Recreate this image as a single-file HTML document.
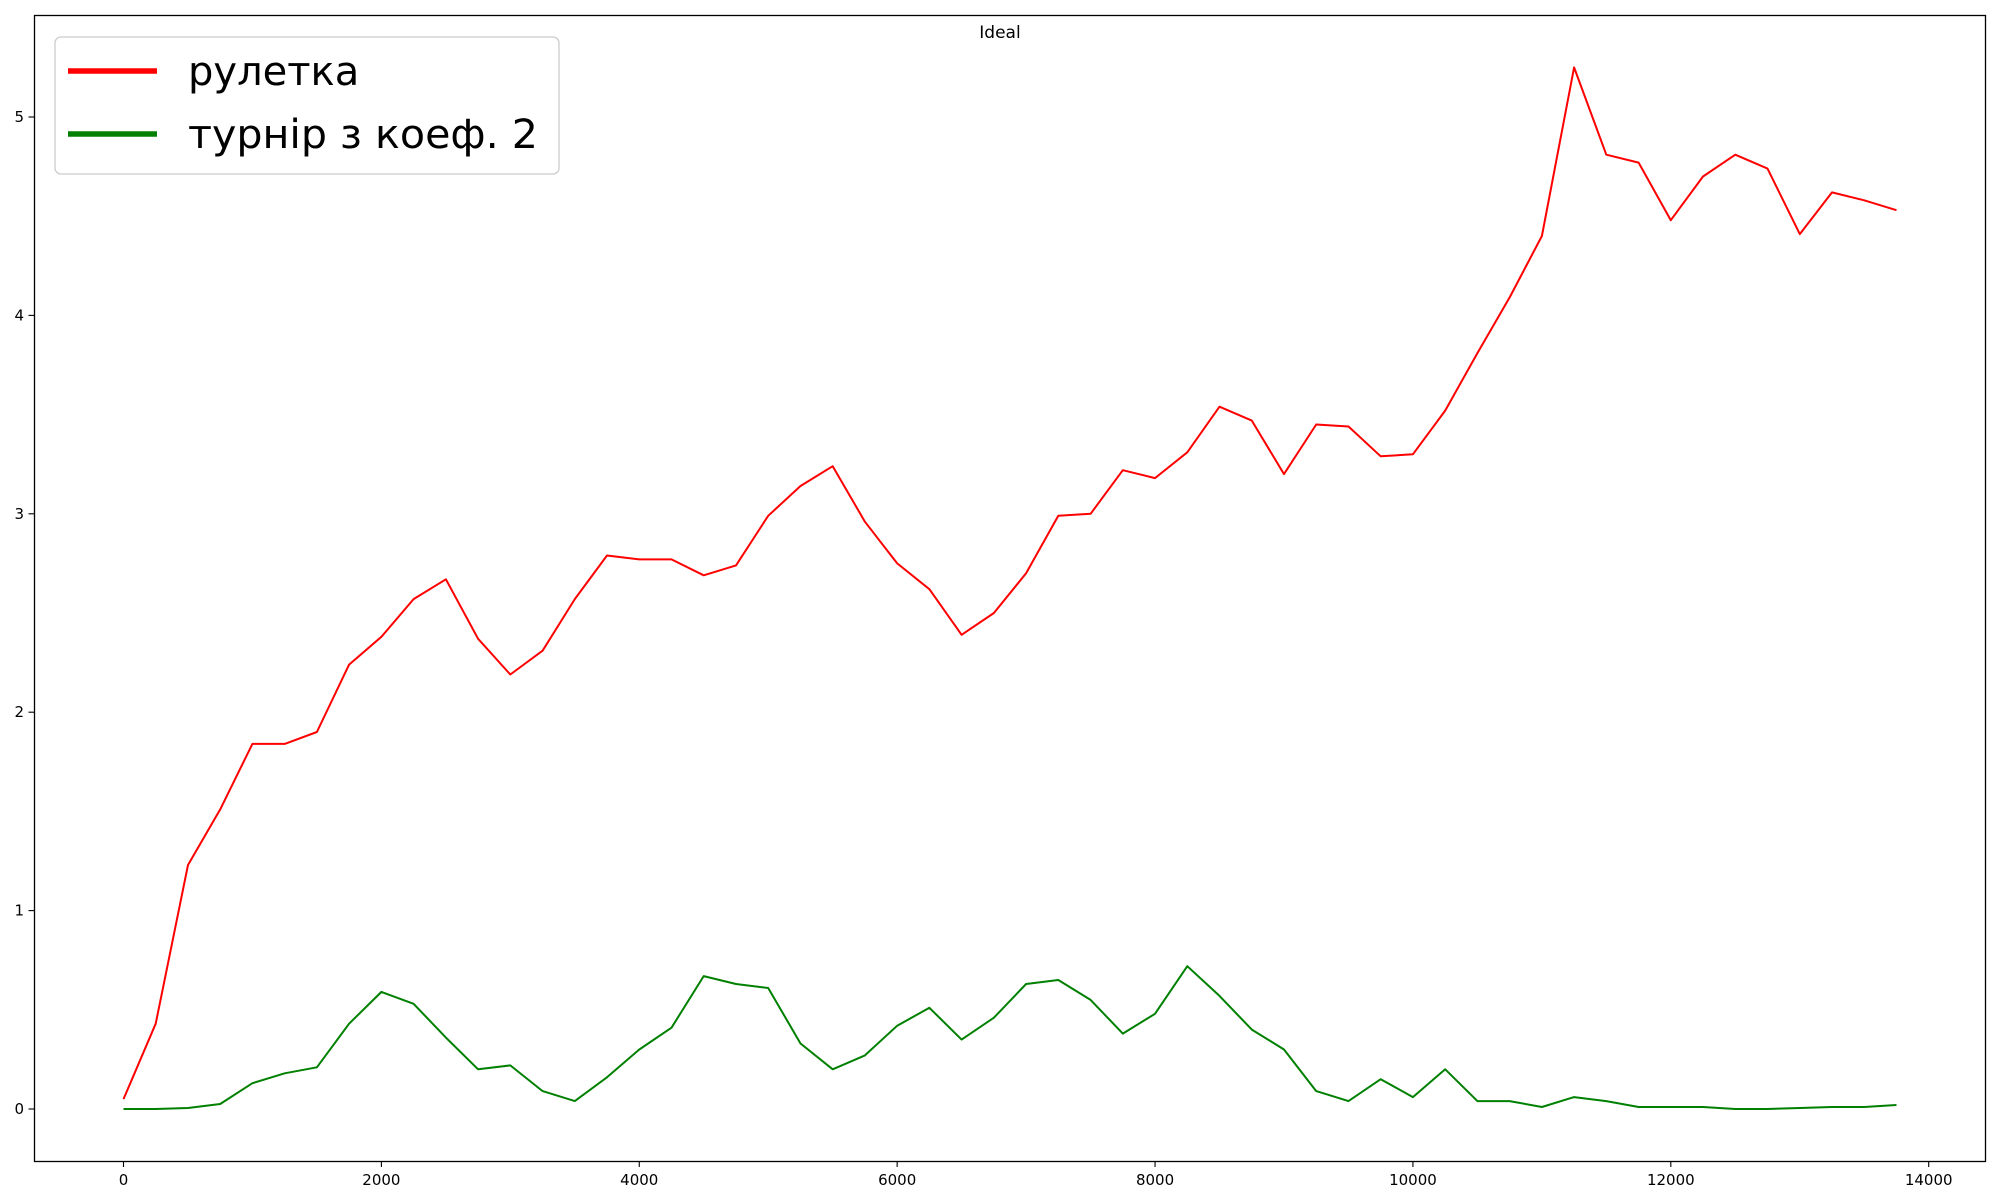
<!DOCTYPE html>
<html><head><meta charset="utf-8"><style>
html,body{margin:0;padding:0;background:#fff;}
svg{display:block;font-family:"DejaVu Sans","Liberation Sans",sans-serif;}
</style></head><body>
<svg id="chart" width="2000" height="1200" viewBox="0 0 2000 1200" xmlns="http://www.w3.org/2000/svg">
<rect x="0" y="0" width="2000" height="1200" fill="#fff"/>
<g id="marks"></g>
<rect x="34.5" y="15.5" width="1951" height="1146" fill="none" stroke="#000" stroke-width="1.3"/>
<g id="ticks"></g>
<text x="1000" y="38" font-size="17" text-anchor="middle">Ideal</text>
<g>
<rect x="55" y="37" width="504" height="137" rx="6" fill="#fff" fill-opacity="0.8" stroke="#ccc" stroke-width="1.3"/>
<line x1="68" y1="71" x2="157" y2="71" stroke="#ff0000" stroke-width="5.5"/>
<text x="188" y="85" font-size="40">рулетка</text>
<line x1="68" y1="134" x2="157" y2="134" stroke="#008000" stroke-width="5.5"/>
<text x="188" y="148" font-size="40" textLength="350" lengthAdjust="spacingAndGlyphs">турнір з коеф. 2</text>
</g>
</svg>
<script>
const xValues = [0,250,500,750,1000,1250,1500,1750,2000,2250,2500,2750,3000,3250,3500,3750,4000,4250,4500,4750,5000,5250,5500,5750,6000,6250,6500,6750,7000,7250,7500,7750,8000,8250,8500,8750,9000,9250,9500,9750,10000,10250,10500,10750,11000,11250,11500,11750,12000,12250,12500,12750,13000,13250,13500,13750];
const rouletteValues = [0.05,0.43,1.23,1.51,1.84,1.84,1.90,2.24,2.38,2.57,2.67,2.37,2.19,2.31,2.57,2.79,2.77,2.77,2.69,2.74,2.99,3.14,3.24,2.96,2.75,2.62,2.39,2.50,2.70,2.99,3.00,3.22,3.18,3.31,3.54,3.47,3.20,3.45,3.44,3.29,3.30,3.52,3.81,4.09,4.40,5.25,4.81,4.77,4.48,4.70,4.81,4.74,4.41,4.62,4.58,4.53];
const tournamentValues = [0,0,0.005,0.025,0.13,0.18,0.21,0.43,0.59,0.53,0.36,0.20,0.22,0.09,0.04,0.16,0.30,0.41,0.67,0.63,0.61,0.33,0.20,0.27,0.42,0.51,0.35,0.46,0.63,0.65,0.55,0.38,0.48,0.72,0.57,0.40,0.30,0.09,0.04,0.15,0.06,0.20,0.04,0.04,0.01,0.06,0.04,0.01,0.01,0.01,0,0,0.005,0.01,0.01,0.02];
const xTicks = [0,2000,4000,6000,8000,10000,12000,14000];
const yTicks = [0,1,2,3,4,5];

const NS = "http://www.w3.org/2000/svg";
function xScale(v){ return 123.5 + v * (1928.7 - 123.5) / 14000; }
function yScale(v){ return 1109 - v * (1109 - 117) / 5; }

const marks = document.getElementById('marks');
function drawLine(vals, color, name){
  const p = document.createElementNS(NS, 'polyline');
  p.setAttribute('points', vals.map((v,i)=>xScale(xValues[i]).toFixed(1)+','+yScale(v).toFixed(1)).join(' '));
  p.setAttribute('fill','none');
  p.setAttribute('stroke',color);
  p.setAttribute('stroke-width','2');
  p.setAttribute('stroke-linejoin','round');
  
  
  marks.appendChild(p);
}
drawLine(rouletteValues, '#ff0000', 'roulette-line');
drawLine(tournamentValues, '#008000', 'tournament-line');

const ticks = document.getElementById('ticks');
xTicks.forEach(t=>{
  const x = xScale(t);
  const l = document.createElementNS(NS,'line');
  l.setAttribute('x1',x); l.setAttribute('x2',x); l.setAttribute('y1',1161); l.setAttribute('y2',1167);
  l.setAttribute('stroke','#000'); l.setAttribute('stroke-width','1.1');
  
  
  ticks.appendChild(l);
  const tx = document.createElementNS(NS,'text');
  tx.setAttribute('x',x); tx.setAttribute('y',1185); tx.setAttribute('font-size','15'); tx.setAttribute('text-anchor','middle');
  tx.textContent = t;
  
  
  ticks.appendChild(tx);
});
yTicks.forEach(t=>{
  const y = yScale(t);
  const l = document.createElementNS(NS,'line');
  l.setAttribute('x1',28.5); l.setAttribute('x2',34.5); l.setAttribute('y1',y); l.setAttribute('y2',y);
  l.setAttribute('stroke','#000'); l.setAttribute('stroke-width','1.1');
  
  
  ticks.appendChild(l);
  const tx = document.createElementNS(NS,'text');
  tx.setAttribute('x',24); tx.setAttribute('y',y+5); tx.setAttribute('font-size','15'); tx.setAttribute('text-anchor','end');
  tx.textContent = t;
  
  
  ticks.appendChild(tx);
});
</script>
</body></html>
